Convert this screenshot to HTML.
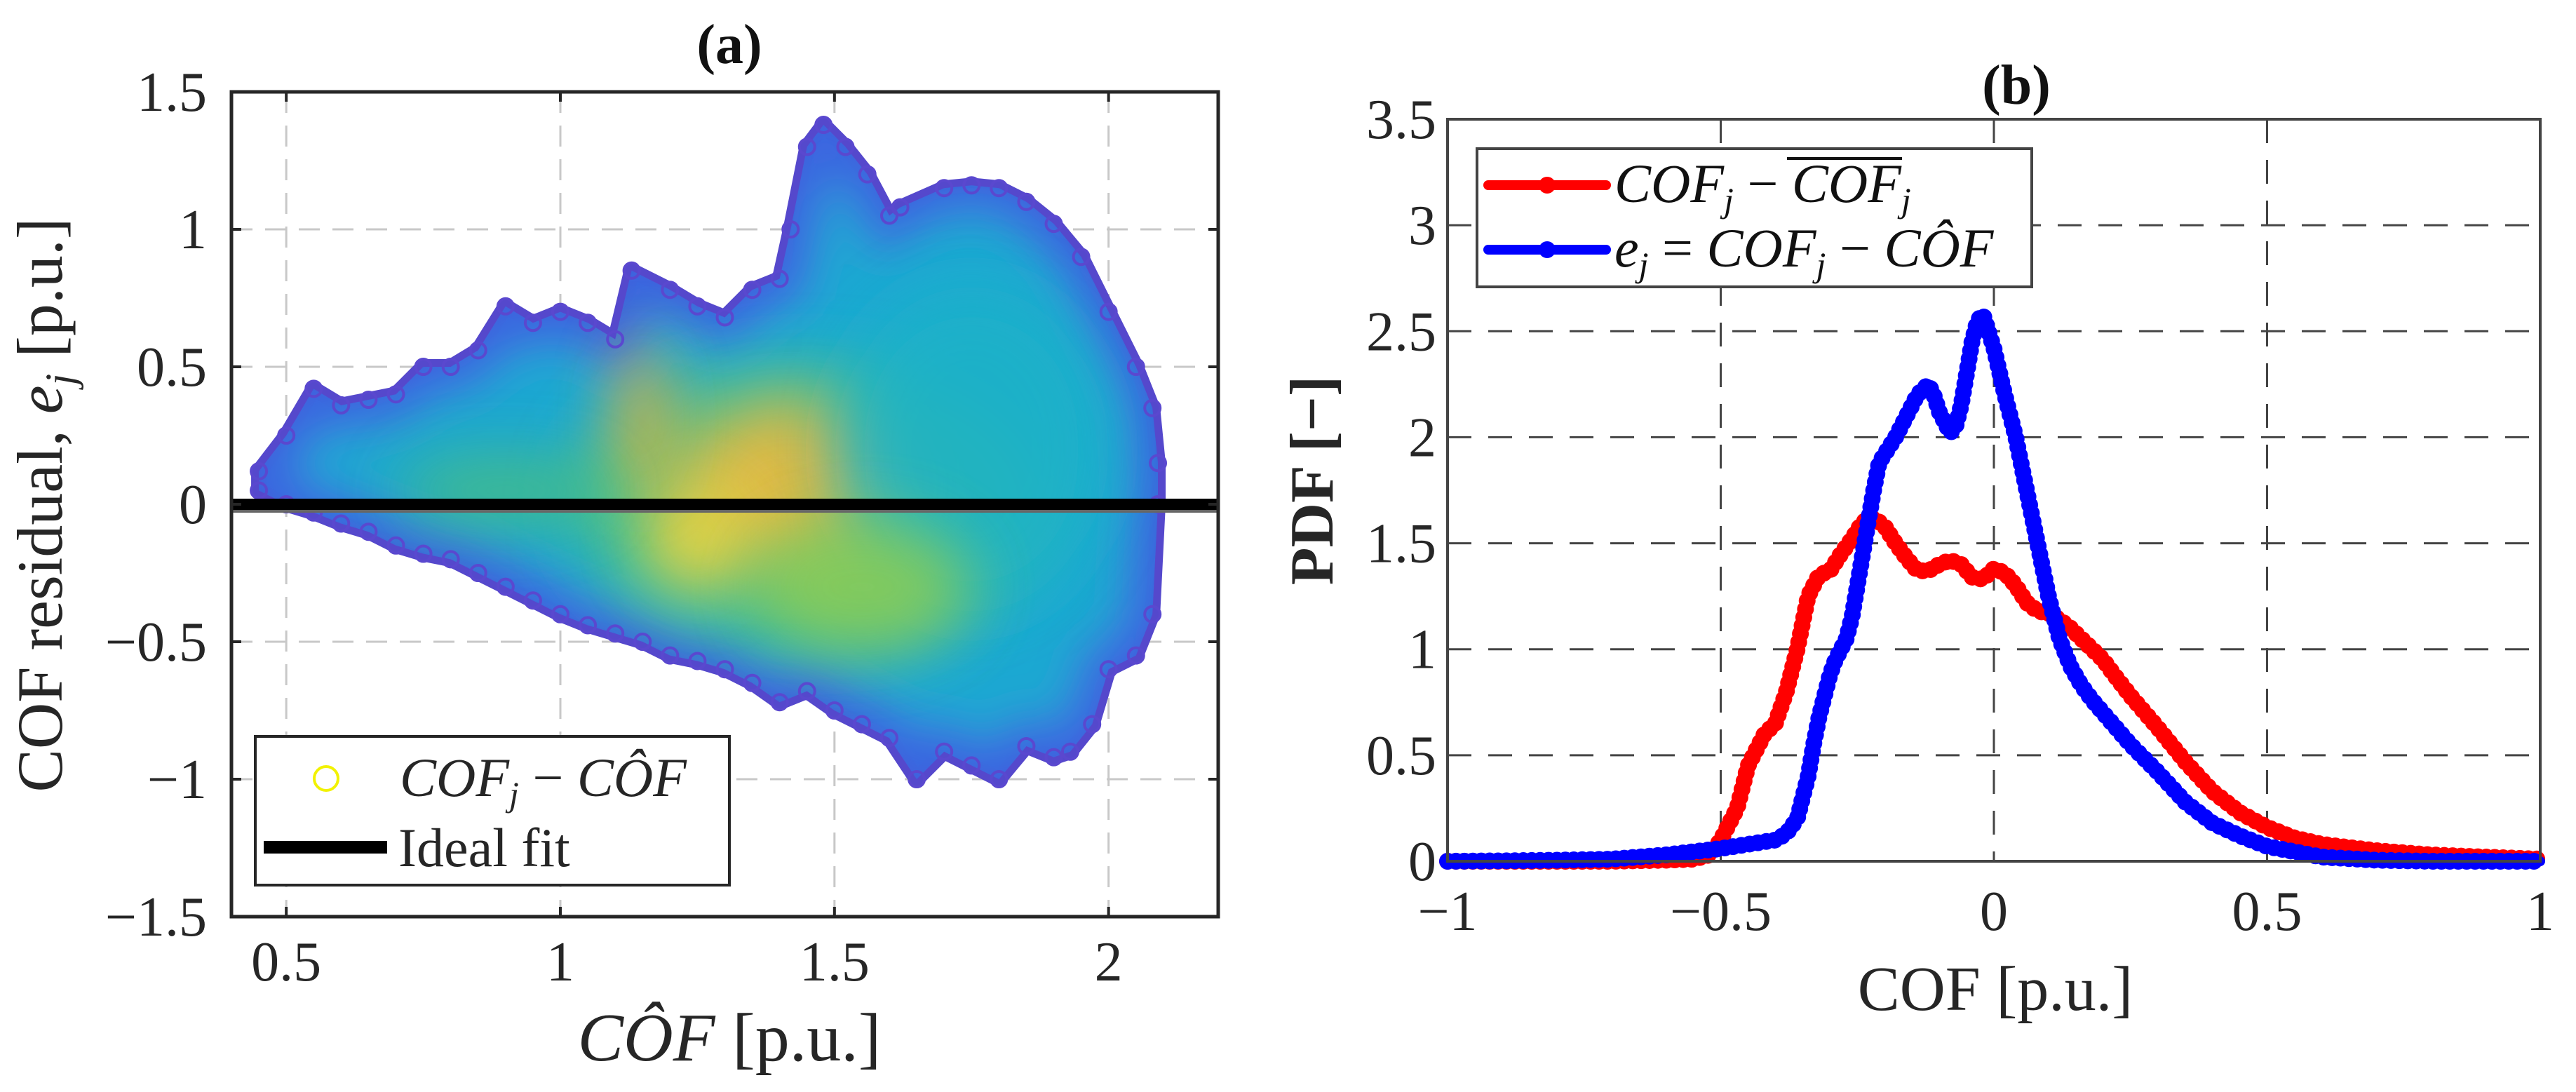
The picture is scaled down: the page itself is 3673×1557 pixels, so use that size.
<!DOCTYPE html>
<html><head><meta charset="utf-8">
<style>
html,body{margin:0;padding:0;background:#fff;}
svg{display:block;font-family:"Liberation Serif",serif;}
</style></head>
<body>
<svg id="fig" width="3673" height="1557" viewBox="0 0 3673 1557" xmlns="http://www.w3.org/2000/svg">
<defs>
  <filter id="blur1" filterUnits="userSpaceOnUse" x="0" y="0" width="3673" height="1557"><feGaussianBlur stdDeviation="30"/></filter>
  <filter id="blur2" filterUnits="userSpaceOnUse" x="0" y="0" width="3673" height="1557"><feGaussianBlur stdDeviation="45"/></filter>
  <clipPath id="clipA"><rect x="330" y="131" width="1407" height="1176"/></clipPath>
  <clipPath id="cloudClip"><path id="cloudClipPath" d=""/></clipPath>
</defs>
<g id="panelA"></g>
<g id="panelB"></g>
</svg>
<script>
// ---------- Panel (a) data ----------
const upperX = [0.45,0.5,0.55,0.6,0.65,0.7,0.75,0.8,0.85,0.9,0.95,1.0,1.05,1.1,1.13,1.2,1.25,1.3,1.35,1.4,1.42,1.45,1.48,1.52,1.56,1.6,1.62,1.7,1.75,1.8,1.85,1.9,1.95,2.0,2.05,2.08,2.09];
const upperY = [0.12,0.25,0.42,0.36,0.38,0.4,0.5,0.5,0.56,0.72,0.66,0.7,0.66,0.6,0.85,0.78,0.72,0.68,0.78,0.82,1.0,1.3,1.38,1.3,1.2,1.05,1.08,1.15,1.16,1.15,1.1,1.02,0.9,0.7,0.5,0.35,0.15];
const lowerX = [2.09,2.08,2.05,2.0,1.97,1.93,1.9,1.85,1.8,1.75,1.7,1.65,1.6,1.55,1.5,1.45,1.4,1.35,1.3,1.25,1.2,1.15,1.1,1.05,1.0,0.95,0.9,0.85,0.8,0.75,0.7,0.65,0.6,0.55,0.5,0.45];
const lowerY = [0.0,-0.4,-0.55,-0.6,-0.8,-0.9,-0.92,-0.88,-1.0,-0.95,-0.9,-1.0,-0.85,-0.8,-0.75,-0.68,-0.72,-0.65,-0.6,-0.57,-0.55,-0.5,-0.47,-0.44,-0.4,-0.35,-0.3,-0.25,-0.2,-0.18,-0.15,-0.1,-0.07,-0.03,0.0,0.05];
// dense-core blobs: centre x, centre y, spread x, spread y, colour
const blobX = [1.42,1.25,1.15,1.75,0.9,1.55];
const blobY = [0.08,-0.12,0.3,0.2,0.05,-0.3];
const blobSX = [0.2,0.1,0.05,0.25,0.2,0.2];
const blobSY = [0.3,0.2,0.3,0.6,0.12,0.25];
const blobC = ["#f5b83a","#f7d53a","#f0b030","#1eb2c8","#4cc07a","#8ccc55"];
const aXTicks = [0.5,1,1.5,2];
const aXTickLabels = ["0.5","1","1.5","2"];
const aYTicks = [-1.5,-1,-0.5,0,0.5,1,1.5];
const aYTickLabels = ["\u22121.5","\u22121","\u22120.5","0","0.5","1","1.5"];

// ---------- Panel (b) data ----------
const redX = [-1,-0.9,-0.8,-0.7,-0.6,-0.55,-0.52,-0.5,-0.47,-0.45,-0.42,-0.4,-0.38,-0.36,-0.34,-0.32,-0.3,-0.28,-0.26,-0.24,-0.22,-0.2,-0.18,-0.16,-0.14,-0.12,-0.1,-0.08,-0.06,-0.04,-0.02,0,0.02,0.04,0.06,0.08,0.1,0.12,0.14,0.16,0.18,0.2,0.22,0.25,0.3,0.35,0.4,0.45,0.5,0.55,0.6,0.7,0.8,0.9,1.0];
const redY = [0,0,0,0,0.005,0.01,0.03,0.1,0.25,0.45,0.6,0.65,0.8,1.0,1.25,1.35,1.37,1.45,1.52,1.6,1.62,1.58,1.5,1.43,1.37,1.37,1.4,1.42,1.4,1.34,1.33,1.38,1.36,1.3,1.22,1.18,1.17,1.14,1.1,1.05,1.0,0.95,0.88,0.78,0.63,0.47,0.33,0.23,0.16,0.11,0.08,0.05,0.03,0.02,0.01];
const blueX = [-1,-0.9,-0.8,-0.7,-0.6,-0.5,-0.45,-0.4,-0.38,-0.36,-0.35,-0.34,-0.33,-0.32,-0.31,-0.3,-0.29,-0.28,-0.27,-0.26,-0.25,-0.24,-0.23,-0.22,-0.21,-0.2,-0.18,-0.16,-0.14,-0.12,-0.11,-0.1,-0.08,-0.07,-0.06,-0.05,-0.04,-0.03,-0.02,-0.01,0,0.02,0.04,0.06,0.08,0.1,0.12,0.14,0.16,0.18,0.2,0.25,0.3,0.35,0.4,0.45,0.5,0.6,0.7,0.8,0.9,1.0];
const blueY = [0,0.002,0.005,0.01,0.03,0.06,0.08,0.1,0.13,0.2,0.3,0.4,0.55,0.68,0.78,0.88,0.95,1.0,1.05,1.15,1.3,1.45,1.6,1.75,1.88,1.92,2.0,2.1,2.2,2.25,2.2,2.12,2.02,2.05,2.15,2.3,2.45,2.55,2.58,2.5,2.42,2.2,2.0,1.75,1.5,1.25,1.05,0.92,0.83,0.76,0.7,0.55,0.42,0.28,0.18,0.12,0.07,0.02,0.005,0,0,0];
const bXTicks = [-1,-0.5,0,0.5,1];
const bXTickLabels = ["\u22121","\u22120.5","0","0.5","1"];
const bYTicks = [0,0.5,1,1.5,2,2.5,3,3.5];
const bYTickLabels = ["0","0.5","1","1.5","2","2.5","3","3.5"];

const NS = "http://www.w3.org/2000/svg";
function mk(parent, tag, attrs, text){
  const e = document.createElementNS(NS, tag);
  for (const k in attrs) e.setAttribute(k, attrs[k]);
  if (text !== undefined) e.textContent = text;
  parent.appendChild(e);
  return e;
}

// ---------- Panel (a) ----------
const A = {l:330, r:1737, t:131, b:1307, x0:0.4, x1:2.2, y0:-1.5, y1:1.5};
const ax = v => A.l + (v - A.x0) / (A.x1 - A.x0) * (A.r - A.l);
const ay = v => A.b - (v - A.y0) / (A.y1 - A.y0) * (A.b - A.t);
const gA = document.getElementById('panelA');

aXTicks.forEach(v => {
  const g = mk(gA,'line',{x1:ax(v),x2:ax(v),y1:A.t,y2:A.b,stroke:'#c8c8c8','stroke-width':3,'stroke-dasharray':'30 18'});
  
  
});
aYTicks.forEach(v => {
  const g = mk(gA,'line',{x1:A.l,x2:A.r,y1:ay(v),y2:ay(v),stroke:'#c8c8c8','stroke-width':3,'stroke-dasharray':'30 18'});
  
  
});

let d = '';
upperX.forEach((x,i) => { d += (i ? 'L' : 'M') + ax(x) + ',' + ay(upperY[i]); });
lowerX.forEach((x,i) => { d += 'L' + ax(x) + ',' + ay(lowerY[i]); });
d += 'Z';
document.getElementById('cloudClipPath').setAttribute('d', d);
const cloudG = mk(gA,'g',{'clip-path':'url(#clipA)'});


const edge = mk(cloudG,'path',{d:d,fill:'#3f6ae0',stroke:'#5548cc','stroke-width':22,'stroke-linejoin':'round'});


const inner = mk(cloudG,'g',{'clip-path':'url(#cloudClip)'});


const cyan = mk(inner,'path',{d:d,fill:'#1fa8d2',stroke:'#3a66e0','stroke-width':80,filter:'url(#blur1)'});


const greenE = mk(inner,'ellipse',{cx:ax(1.45),cy:ay(0.0),rx:(ax(1.9)-ax(1.05))/2,ry:(ay(-0.5)-ay(0.5))/2,fill:'#45c090',filter:'url(#blur2)'});


blobX.forEach((x,i) => {
  const e = mk(inner,'ellipse',{cx:ax(x),cy:ay(blobY[i]),rx:ax(x+blobSX[i])-ax(x),ry:ay(blobY[i]-blobSY[i])-ay(blobY[i]),fill:blobC[i],filter:'url(#blur2)',opacity:0.85});
  
  
});
[[upperX,upperY],[lowerX,lowerY]].forEach(([xs,ys]) => {
  xs.forEach((x,i) => {
    const c = mk(cloudG,'circle',{cx:ax(x),cy:ay(ys[i]),r:11,fill:'none',stroke:'#5a48cf','stroke-width':4});
    
    
  });
});

const fit = mk(gA,'line',{x1:A.l,x2:A.r,y1:ay(0),y2:ay(0),stroke:'#000','stroke-width':16});


mk(gA,'line',{x1:A.l,x2:A.r,y1:ay(0)+10,y2:ay(0)+10,stroke:'#666','stroke-width':4});

const boxA = mk(gA,'rect',{x:A.l,y:A.t,width:A.r-A.l,height:A.b-A.t,fill:'none',stroke:'#262626','stroke-width':5});


aXTicks.forEach((v,i) => {
  mk(gA,'line',{x1:ax(v),x2:ax(v),y1:A.b,y2:A.b-14,stroke:'#262626','stroke-width':4});
  mk(gA,'line',{x1:ax(v),x2:ax(v),y1:A.t,y2:A.t+14,stroke:'#262626','stroke-width':4});
  const t = mk(gA,'text',{x:ax(v),y:1398,'font-size':80,'text-anchor':'middle',fill:'#262626'},aXTickLabels[i]);
  
  
});
aYTicks.forEach((v,i) => {
  mk(gA,'line',{x1:A.l,x2:A.l+14,y1:ay(v),y2:ay(v),stroke:'#262626','stroke-width':4});
  mk(gA,'line',{x1:A.r,x2:A.r-14,y1:ay(v),y2:ay(v),stroke:'#262626','stroke-width':4});
  const t = mk(gA,'text',{x:295,y:ay(v)+27,'font-size':80,'text-anchor':'end',fill:'#262626'},aYTickLabels[i]);
  
  
});
</script>
<script>
// ---------- Panel (b) ----------
const B = {l:2064, r:3622, t:170, b:1228, x0:-1, x1:1, y0:0, y1:3.5};
const bx = v => B.l + (v - B.x0) / (B.x1 - B.x0) * (B.r - B.l);
const by = v => B.b - (v - B.y0) / (B.y1 - B.y0) * (B.b - B.t);
const gB = document.getElementById('panelB');
bXTicks.forEach(v => {
  const g = mk(gB,'line',{x1:bx(v),x2:bx(v),y1:B.t,y2:B.b,stroke:'#444','stroke-width':3,'stroke-dasharray':'34 24'});
  
  
});
bYTicks.forEach(v => {
  const g = mk(gB,'line',{x1:B.l,x2:B.r,y1:by(v),y2:by(v),stroke:'#444','stroke-width':3,'stroke-dasharray':'34 24'});
  
  
});
function drawSeries(xs, ys, color, name){
  let p = '';
  xs.forEach((x,i) => { p += (i ? 'L' : 'M') + bx(x).toFixed(1) + ',' + by(ys[i]).toFixed(1); });
  const line = mk(gB,'path',{d:p,fill:'none',stroke:color,'stroke-width':14,'stroke-linejoin':'round','stroke-linecap':'round'});
  
  
  const dots = mk(gB,'path',{d:p,fill:'none',stroke:color,'stroke-width':24,'stroke-linecap':'round','stroke-dasharray':'0 12'});
  
  
}
drawSeries(redX, redY, '#ff0000', 'red-series');
drawSeries(blueX, blueY, '#0000ff', 'blue-series');
const boxB = mk(gB,'rect',{x:B.l,y:B.t,width:B.r-B.l,height:B.b-B.t,fill:'none',stroke:'#444','stroke-width':4});


bXTicks.forEach((v,i) => {
  const t = mk(gB,'text',{x:bx(v),y:1326,'font-size':80,'text-anchor':'middle',fill:'#262626'},bXTickLabels[i]);
  
  
});
bYTicks.forEach((v,i) => {
  const t = mk(gB,'text',{x:2048,y:by(v)+27,'font-size':80,'text-anchor':'end',fill:'#262626'},bYTickLabels[i]);
  
  
});
</script>

<svg width="3673" height="1557" style="position:absolute;left:0;top:0" xmlns="http://www.w3.org/2000/svg">
  <text x="1040" y="90" font-size="80" font-weight="bold" text-anchor="middle" fill="#111">(a)</text>
  <text x="2875" y="148" font-size="80" font-weight="bold" text-anchor="middle" fill="#111">(b)</text>
  <text transform="translate(88,720) rotate(-90)" font-size="92" text-anchor="middle" fill="#262626">COF residual,  <tspan font-style="italic">e</tspan><tspan font-style="italic" font-size="60" dy="18">j</tspan><tspan dy="-18"> [p.u.]</tspan></text>
  <text x="1040" y="1512" font-size="98" text-anchor="middle" fill="#262626"><tspan font-style="italic">CÔF</tspan> [p.u.]</text>
  <text transform="translate(1900,685) rotate(-90)" font-size="88" font-weight="bold" text-anchor="middle" fill="#262626">PDF [−]</text>
  <text x="2845" y="1440" font-size="90" text-anchor="middle" fill="#262626">COF [p.u.]</text>

  <g>
    <rect x="364" y="1050" width="676" height="212" fill="#fff" stroke="#262626" stroke-width="4"/>
    <circle cx="465" cy="1110" r="17" fill="none" stroke="#f2f200" stroke-width="4"/>
    <text x="570" y="1135" font-size="78" font-style="italic" fill="#262626">COF<tspan font-size="50" dy="14">j</tspan><tspan dy="-14" font-style="normal"> − </tspan>CÔF</text>
    <line x1="376" y1="1208" x2="552" y2="1208" stroke="#000" stroke-width="18"/>
    <text x="568" y="1235" font-size="78" fill="#262626">Ideal fit</text>
  </g>

  <g>
    <rect x="2106" y="212" width="791" height="197" fill="#fff" stroke="#444" stroke-width="4"/>
    <line x1="2122" y1="264" x2="2290" y2="264" stroke="#ff0000" stroke-width="14" stroke-linecap="round"/>
    <circle cx="2206" cy="264" r="12" fill="#ff0000"/>
    <text x="2302" y="288" font-size="78" font-style="italic" fill="#111">COF<tspan font-size="50" dy="14">j</tspan><tspan dy="-14" font-style="normal"> − </tspan>COF<tspan font-size="50" dy="14">j</tspan></text>
    <line x1="2548" y1="226" x2="2712" y2="226" stroke="#111" stroke-width="4"/>
    <line x1="2122" y1="356" x2="2290" y2="356" stroke="#0000ff" stroke-width="14" stroke-linecap="round"/>
    <circle cx="2206" cy="356" r="12" fill="#0000ff"/>
    <text x="2302" y="380" font-size="78" font-style="italic" fill="#111">e<tspan font-size="50" dy="14">j</tspan><tspan dy="-14" font-style="normal"> = </tspan>COF<tspan font-size="50" dy="14">j</tspan><tspan dy="-14" font-style="normal"> − </tspan>CÔF</text>
  </g>
</svg>
</body></html>
